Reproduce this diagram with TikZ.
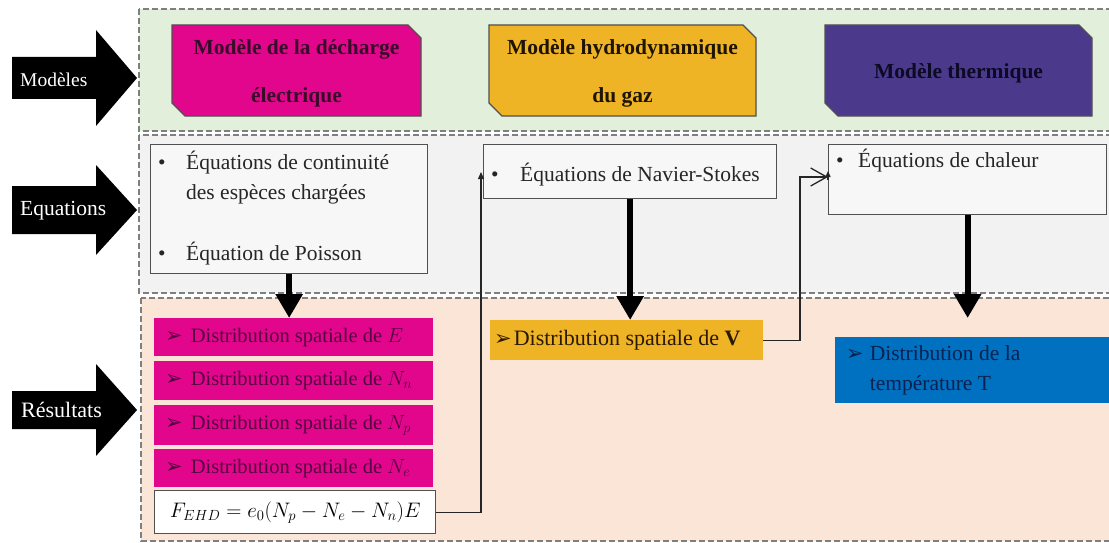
\RequirePackage{fix-cm}
\documentclass[tikz,border=0pt]{standalone}
\usepackage{fontspec}
\setmainfont{Liberation Serif}
\newfontfamily\symfont{DejaVu Sans}
\usetikzlibrary{arrows.meta}

\definecolor{panelgreen}{HTML}{E2EFDA}
\definecolor{panelgray}{HTML}{F2F2F2}
\definecolor{panelpeach}{HTML}{FBE5D6}
\definecolor{dashgray}{HTML}{7F7F7F}
\definecolor{magentabox}{HTML}{E2068C}
\definecolor{goldbox}{HTML}{EEB425}
\definecolor{purplebox}{HTML}{4B3A8C}
\definecolor{bluebox}{HTML}{0070C0}
\definecolor{plumtext}{HTML}{55003F}
\definecolor{navytext}{HTML}{0B2150}
\definecolor{darktext}{HTML}{262626}
\definecolor{edgegray}{HTML}{505050}
\definecolor{titlemag}{HTML}{3A0A2A}
\definecolor{titlegold}{HTML}{1F1400}
\definecolor{titlepurple}{HTML}{0D0A26}
\definecolor{goldtext}{HTML}{2A1800}

% arrowhead bullet used in the result boxes
\newcommand\tri{{\symfont\fontsize{21pt}{21pt}\selectfont ➢}}
% model box with two snipped corners
\newcommand\snipbox[5]{%
  \filldraw[modelbox, fill=#5] (#1,#2) -- ({#3-13},#2) -- (#3,{#2+13})
    -- (#3,#4) -- ({#1+13},#4) -- (#1,{#4-13}) -- cycle;}

\begin{document}
\begin{tikzpicture}[x=1pt,y=-1pt,
  panel/.style={draw=dashgray, line width=1.3pt, dash pattern=on 6pt off 3pt},
  modelbox/.style={draw=edgegray, line width=1.2pt},
  titletext/.style={align=center, inner sep=0pt,
    font=\fontsize{21.5pt}{48pt}\selectfont\bfseries},
  sidelabel/.style={anchor=west, inner sep=0pt, text=white},
  eqbox/.style={draw=edgegray, fill=white!97!black, line width=1.3pt,
    anchor=north west, inner sep=0pt},
  bodytext/.style={inner sep=0pt, text=darktext,
    font=\fontsize{21.5pt}{26pt}\selectfont},
  resbox/.style={anchor=north west, inner sep=0pt,
    font=\fontsize{20.5pt}{30pt}\selectfont},
  magres/.style={resbox, fill=magentabox, text=plumtext, minimum width=279pt},
  flow/.style={line width=6pt, -{Triangle[length=24pt,width=26pt]}},
  link/.style={draw=black!85, line width=1.3pt}
]
\useasboundingbox (0,0) rectangle (1109,543);
\clip (0,0) rectangle (1109,543);

% three dashed bands
\filldraw[panel, fill=panelgreen] (139,9) rectangle (1120,131);
\filldraw[panel, fill=panelgray] (139,135) rectangle (1120,293);
\filldraw[panel, fill=panelpeach] (141,298) rectangle (1120,541);

% block arrows on the left
\fill (12,57) -- (96,57) -- (96,30) -- (137,78) -- (96,126) -- (96,99) -- (12,99) -- cycle;
\node[sidelabel, font=\fontsize{19.5pt}{20pt}\selectfont] (lM) at (20,80) {Modèles};
\fill (12,186) -- (96,186) -- (96,165) -- (137,210) -- (96,255) -- (96,234) -- (12,234) -- cycle;
\node[sidelabel, font=\fontsize{21.5pt}{22pt}\selectfont] (lE) at (20,211) {Equations};
\fill (12,391) -- (96,391) -- (96,364) -- (137,410) -- (96,456) -- (96,429) -- (12,429) -- cycle;
\node[sidelabel, font=\fontsize{22pt}{22pt}\selectfont] (lR) at (21,410) {Résultats};

% models
\snipbox{172}{25}{421}{116}{magentabox}
\node[titletext, text=titlemag] (m1) at (296.5,73) {Modèle de la décharge\\électrique};
\snipbox{489}{25}{756}{116}{goldbox}
\node[titletext, text=titlegold] (m2) at (622.5,73) {Modèle hydrodynamique\\du gaz};
\snipbox{825}{25}{1092}{116}{purplebox}
\node[titletext, text=titlepurple] (m3) at (958.5,73) {Modèle thermique};

% equations
\node[eqbox, minimum width=277pt, minimum height=129pt] (e1) at (150,144) {};
\node[bodytext, anchor=base] (b1) at (162,169) {•};
\node[bodytext, anchor=base west] (t1) at (186,169) {Équations de continuité};
\node[bodytext, anchor=base west] (t2) at (186,199) {des espèces chargées};
\node[bodytext, anchor=base] (b2) at (162,260) {•};
\node[bodytext, anchor=base west] (t3) at (186,260) {Équation de Poisson};

\node[eqbox, minimum width=293pt, minimum height=54pt] (e2) at (483,144) {};
\node[bodytext, anchor=base] (b3) at (495,181) {•};
\node[bodytext, anchor=base west] (t4) at (520,181) {Équations de Navier-Stokes};

\node[eqbox, minimum width=278pt, minimum height=70pt] (e3) at (828,144) {};
\node[bodytext, anchor=base] (b4) at (840,167) {•};
\node[bodytext, anchor=base west] (t5) at (858,167) {Équations de chaleur};

% results of the discharge model
\node[magres, minimum height=38pt] (rE) at (154,318)
  {\makebox[279pt][l]{\hspace{11pt}\tri\hspace{8pt}Distribution spatiale de $E$}};
\node[magres, minimum height=39pt] (rNn) at (154,361)
  {\makebox[279pt][l]{\hspace{11pt}\tri\hspace{8pt}Distribution spatiale de $N_n$}};
\node[magres, minimum height=40pt] (rNp) at (154,405)
  {\makebox[279pt][l]{\hspace{11pt}\tri\hspace{8pt}Distribution spatiale de $N_p$}};
\node[magres, minimum height=38pt] (rNe) at (154,449)
  {\makebox[279pt][l]{\hspace{11pt}\tri\hspace{8pt}Distribution spatiale de $N_e$}};
\node[draw=edgegray, line width=1.3pt, fill=white, anchor=north west, inner sep=0pt,
  minimum width=281pt, minimum height=43pt,
  font=\fontsize{21pt}{21pt}\selectfont] (rF) at (154,490) {$F_{EHD} = e_0(N_p - N_e - N_n)E$};

% results of the gas and thermal models
\node[resbox, fill=goldbox, text=goldtext, minimum width=273pt, minimum height=40pt,
  font=\fontsize{22pt}{26pt}\selectfont] (rV) at (490,320)
  {\makebox[273pt][l]{\hspace{4pt}\tri\hspace{2pt}Distribution spatiale de \textbf{V}}};
\node[resbox, fill=bluebox, text=navytext, minimum width=280pt, minimum height=66pt,
  font=\fontsize{21.5pt}{30pt}\selectfont] (rT) at (835,337)
  {\makebox[280pt][l]{\hspace{11pt}\tri\hspace{6pt}\parbox[t]{220pt}{Distribution de la\\température T}}};

% model chain
\draw[flow] (e1.south) -- (e1.south |- rE.north);
\draw[flow] (e2.south) -- (e2.south |- rV.north);
\draw[flow, shorten >=19pt] (e3.south) -- (e3.south |- rT.north);

\coordinate (c1) at (481,172);
\draw[link, -{Triangle[length=7pt,width=6pt]}] (rF.east) -| (c1);
\coordinate (c2) at (800,177);
\draw[link, -{Straight Barb[length=16pt,width=18pt]}] (rV.east) -| (c2) -- (e3.west |- c2);
\coordinate (c3) at (828,171);
\draw[link, -{Triangle[length=6pt,width=5pt]}] (828,180) -- (c3);
\end{tikzpicture}
\end{document}
